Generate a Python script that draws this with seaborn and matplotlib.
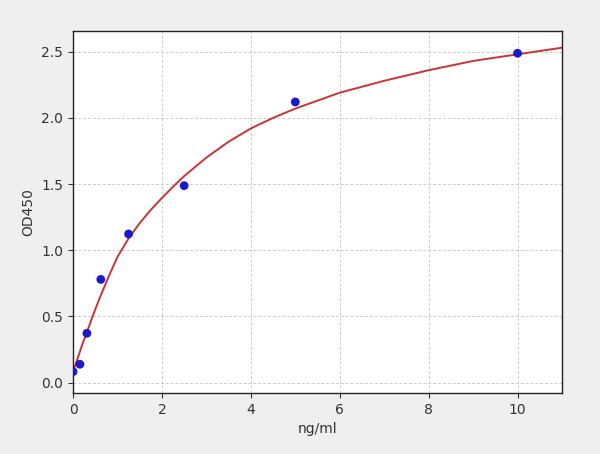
import matplotlib
matplotlib.use("Agg")
import matplotlib.pyplot as plt
import seaborn as sns
import pandas as pd

# Standard points
conc = [0.0, 0.156, 0.3125, 0.625, 1.25, 2.5, 5.0, 10.0]
od450 = [0.083, 0.139, 0.373, 0.78, 1.123, 1.488, 2.12, 2.488]

# Fitted curve
curve_x = [0.0, 0.1, 0.2, 0.3, 0.45, 0.6, 0.8, 1.0, 1.25, 1.5, 1.75, 2.0,
           2.25, 2.5, 2.75, 3.0, 3.5, 4.0, 4.5, 5.0, 5.5, 6.0, 7.0, 8.0,
           9.0, 10.0, 11.0]
curve_y = [0.08, 0.18, 0.28, 0.37, 0.51, 0.64, 0.80, 0.95, 1.09, 1.205, 1.305,
           1.395, 1.48, 1.56, 1.63, 1.70, 1.82, 1.92, 2.00, 2.07, 2.13, 2.19,
           2.28, 2.36, 2.43, 2.48, 2.53]

x_ticks = [0, 2, 4, 6, 8, 10]
y_ticks = [0.0, 0.5, 1.0, 1.5, 2.0, 2.5]

pts = pd.DataFrame({"x": conc, "y": od450})
crv = pd.DataFrame({"x": curve_x, "y": curve_y})

fig = plt.figure(figsize=(6.0, 4.54), dpi=100, facecolor="#efefef")
ax = fig.add_axes([0.1217, 0.1344, 0.815, 0.7973])
ax.set_facecolor("white")

sns.lineplot(data=crv, x="x", y="y", ax=ax, color="#cc3333", linewidth=1.4,
             zorder=2, estimator=None, sort=True)
sns.scatterplot(data=pts, x="x", y="y", ax=ax, color="#1a1acc", s=40,
                edgecolor="none", zorder=3)

ax.set_xlim(0, 11)
ax.set_ylim(-0.078, 2.656)
ax.set_xticks(x_ticks)
ax.set_xticklabels([str(t) for t in x_ticks])
ax.set_yticks(y_ticks)
ax.set_yticklabels([f"{t:.1f}" for t in y_ticks])
ax.grid(True, linestyle=(0, (3, 2)), color="#cccccc", linewidth=0.7)
ax.set_axisbelow(True)
ax.set_xlabel("ng/ml", fontsize=10, color="#333333")
ax.set_ylabel("OD450", fontsize=10, color="#333333")
ax.tick_params(labelsize=10, colors="#333333", direction="out")
for s in ax.spines.values():
    s.set_color("#222222")
    s.set_linewidth(1.0)

fig.savefig("out.png", dpi=100, facecolor=fig.get_facecolor())
